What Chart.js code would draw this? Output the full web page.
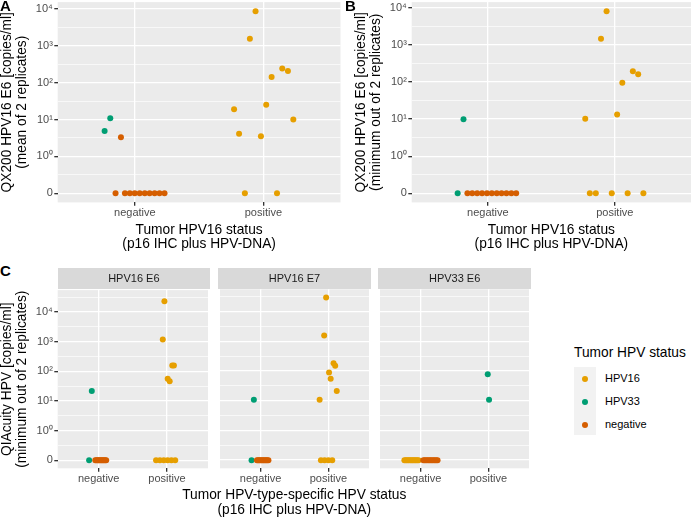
<!DOCTYPE html>
<html>
<head>
<meta charset="utf-8">
<script src="https://cdn.jsdelivr.net/npm/chart.js@4.4.1/dist/chart.umd.min.js"></script>
<style>
  body { margin: 0; width: 695px; height: 525px; position: relative; overflow: hidden; background: #fff;
         font-family: 'Liberation Sans', Arial, sans-serif; }
  canvas { position: absolute; }
  .txt { position: absolute; white-space: nowrap; }
  .tag { font-weight: bold; font-size: 15px; line-height: 15px; color: #000; }
  .strip { position: absolute; background: #D9D9D9; color: #1A1A1A; font-size: 11px; text-align: center; }
  .dot { position: absolute; width: 6px; height: 6px; border-radius: 50%; }
</style>
</head>
<body>
<canvas id="panelA" width="345" height="261" style="left:0;top:-6px"></canvas>
<canvas id="panelB" width="350" height="261" style="left:345px;top:-6px"></canvas>
<canvas id="panelC1" width="212" height="208" style="left:0;top:282px"></canvas>
<canvas id="panelC2" width="157" height="208" style="left:216px;top:282px"></canvas>
<canvas id="panelC3" width="157" height="208" style="left:376px;top:282px"></canvas>

<div class="txt tag" style="left:0;top:-2px">A</div>
<div class="txt tag" style="left:345px;top:-2px">B</div>
<div class="txt tag" style="left:0;top:263px">C</div>

<div class="strip" style="left:57.7px;top:267.5px;width:152.3px;height:21.8px;line-height:21.8px">HPV16 E6</div>
<div class="strip" style="left:218.3px;top:267.5px;width:152.4px;height:21.8px;line-height:21.8px">HPV16 E7</div>
<div class="strip" style="left:378.3px;top:267.5px;width:152.7px;height:21.8px;line-height:21.8px">HPV33 E6</div>

<div class="txt" style="left:94.3px;top:486.5px;width:400px;text-align:center;font-size:13.75px;line-height:15.7px;color:#000">Tumor HPV-type-specific HPV status<br>(p16 IHC plus HPV-DNA)</div>

<div class="txt" style="left:574px;top:345.3px;font-size:13.75px;line-height:16px;color:#000">Tumor HPV status</div>
<div style="position:absolute;left:574px;top:367px;width:22px;height:68px;background:#F2F2F2"></div>
<div id="legendKeys"></div>

<script>
// categories and groups
const statusLabels = ['negative', 'positive'];
const groupNames = ['HPV16', 'HPV33', 'negative'];
const groupColors = ['#E69F00', '#009E73', '#D55E00'];
const supDigits = ['⁰', '¹', '²', '³', '⁴', '⁵'];

// each point: [jittered status position (1 = negative, 2 = positive), copies/ml]
// A: QX200 HPV16 E6, mean of 2 replicates
const qxMeanHpv16 = [[1.939, 8650], [1.895, 1550], [2.147, 240], [2.191, 207], [2.064, 142], [1.772, 19],
                     [2.022, 25], [2.233, 10], [1.811, 4.1], [1.981, 3.5], [1.856, 0], [2.106, 0]];
const qxMeanHpv33 = [[0.765, 4.9], [0.809, 10.9]];
const qxMeanNeg = [[0.892, 3.3], [0.850, 0], [0.923, 0], [0.961, 0], [0.999, 0], [1.038, 0],
                   [1.077, 0], [1.115, 0], [1.154, 0], [1.192, 0], [1.231, 0]];

// B: QX200 HPV16 E6, minimum out of 2 replicates
const qxMinHpv16 = [[1.935, 8130], [1.891, 1470], [2.142, 195], [2.184, 161], [2.059, 96], [1.767, 10.2],
                    [2.018, 13.3], [1.803, 0], [1.850, 0], [1.976, 0], [2.101, 0], [2.225, 0]];
const qxMinHpv33 = [[0.762, 0], [0.808, 10]];
const qxMinNeg = [[0.839, 0], [0.877, 0], [0.916, 0], [0.954, 0], [0.993, 0], [1.031, 0],
                  [1.070, 0], [1.108, 0], [1.146, 0], [1.185, 0], [1.223, 0]];

// C: QIAcuity, minimum out of 2 replicates, per assay
const e6Hpv16 = [[1.962, 23500], [1.938, 1200], [2.077, 159], [2.101, 159], [2.010, 56], [2.039, 46],
                 [1.840, 0], [1.896, 0], [1.952, 0], [2.008, 0], [2.064, 0], [2.120, 0]];
const e6Hpv33 = [[0.860, 0], [0.899, 21.7]];
const e6Neg = [[0.950, 0], [0.966, 0], [0.982, 0], [0.998, 0], [1.014, 0], [1.030, 0],
               [1.046, 0], [1.062, 0], [1.078, 0], [1.094, 0], [1.110, 0]];

const e7Hpv16 = [[1.967, 29600], [1.938, 1550], [2.077, 181], [2.101, 148], [2.010, 88], [2.034, 55],
                 [2.124, 21.2], [1.871, 10.8], [1.890, 0], [1.945, 0], [2.000, 0], [2.057, 0]];
const e7Hpv33 = [[0.866, 0], [0.900, 10.8]];
const e7Neg = [[0.945, 0], [0.962, 0], [0.979, 0], [0.996, 0], [1.013, 0], [1.030, 0],
               [1.047, 0], [1.064, 0], [1.081, 0], [1.098, 0], [1.115, 0]];

const e6h33Hpv16 = [[0.760, 0], [0.779, 0], [0.798, 0], [0.817, 0], [0.836, 0], [0.855, 0],
                    [0.874, 0], [0.893, 0], [0.912, 0], [0.931, 0], [0.950, 0], [0.970, 0]];
const e6h33Hpv33 = [[1.991, 77], [2.010, 10.8]];
const e6h33Neg = [[1.040, 0], [1.061, 0], [1.082, 0], [1.103, 0], [1.124, 0], [1.145, 0],
                  [1.166, 0], [1.187, 0], [1.208, 0], [1.229, 0], [1.250, 0]];

const FONT = "'Liberation Sans', Arial, sans-serif";

// 0 sits one decade below 10^0, like the figure's axis
const toLog = v => v > 0 ? Math.log10(v) : -1;

function yRange(lists) {
    const ys = lists.flat().map(p => toLog(p[1]));
    const lo = Math.min(...ys), hi = Math.max(...ys);
    const pad = (hi - lo) * 0.05;
    return [lo - pad, hi + pad];
}

const tickText = v => v === -1 ? '0' : '10' + supDigits[v];
const isMajor = t => t && Number.isInteger(t.value);

// grey panel background behind the grid
const panelBg = {
    id: 'panelBg',
    beforeDraw(chart) {
        const { ctx, chartArea: a } = chart;
        ctx.save();
        ctx.fillStyle = '#EBEBEB';
        ctx.fillRect(a.left, a.top, a.right - a.left, a.bottom - a.top);
        ctx.restore();
    }
};

function makePanel(id, series, o) {
    const [yMin, yMax] = o.yRange;
    return new Chart(document.getElementById(id), {
        type: 'scatter',
        data: {
            datasets: series.map((pts, i) => ({
                label: groupNames[i],
                data: pts.map(([x, v]) => ({ x: x, y: toLog(v) })),
                backgroundColor: groupColors[i],
                borderWidth: 0,
                pointRadius: 3,
                order: 3 - i
            }))
        },
        options: {
            responsive: false,
            animation: false,
            events: [],
            layout: { padding: o.padding },
            plugins: { legend: { display: false }, tooltip: { enabled: false } },
            scales: {
                x: {
                    type: 'linear',
                    min: 0.4,
                    max: 2.6,
                    afterBuildTicks: s => { s.ticks = [{ value: 1 }, { value: 2 }]; },
                    afterFit: s => { s.height = o.xHeight; },
                    border: { display: false },
                    grid: { color: '#FFFFFF', lineWidth: 1.33, tickColor: '#333333', tickLength: 3.4, tickWidth: 1.33 },
                    ticks: {
                        callback: v => statusLabels[v - 1],
                        color: '#4D4D4D',
                        font: { family: FONT, size: 11 },
                        padding: 1,
                        maxRotation: 0,
                        autoSkip: false
                    },
                    title: o.xTitle ? {
                        display: true,
                        text: o.xTitle,
                        color: '#000000',
                        font: { family: FONT, size: 13.75, lineHeight: '14.5px' },
                        padding: { top: 0, bottom: 3.45 }
                    } : { display: false }
                },
                y: {
                    type: 'linear',
                    min: yMin,
                    max: yMax,
                    afterBuildTicks: s => {
                        const t = [];
                        for (let k = -3; k <= 10; k++) {
                            const v = k / 2;
                            if (v >= s.min && v <= s.max) t.push({ value: v });
                        }
                        s.ticks = t;
                    },
                    afterFit: s => { s.width = o.yWidth; },
                    border: { display: false },
                    grid: {
                        color: '#FFFFFF',
                        lineWidth: c => isMajor(c.tick) ? 1.33 : 0.67,
                        tickColor: c => isMajor(c.tick) ? '#333333' : 'rgba(0,0,0,0)',
                        tickLength: 3.4,
                        tickWidth: 1.33,
                        drawTicks: o.showY
                    },
                    ticks: {
                        display: o.showY,
                        autoSkip: false,
                        callback: v => Number.isInteger(v) ? tickText(v) : '',
                        color: '#4D4D4D',
                        font: { family: FONT, size: 11 },
                        padding: 1.5
                    },
                    title: o.yTitle ? {
                        display: true,
                        text: o.yTitle,
                        color: '#000000',
                        font: { family: FONT, size: 13.75, lineHeight: '14.5px' },
                        padding: { top: 0, bottom: 0 }
                    } : { display: false }
                }
            }
        },
        plugins: [panelBg]
    });
}

const xTitleAB = ['Tumor HPV16 status', '(p16 IHC plus HPV-DNA)'];

makePanel('panelA', [qxMeanHpv16, qxMeanHpv33, qxMeanNeg], {
    yRange: yRange([qxMeanHpv16, qxMeanHpv33, qxMeanNeg]),
    padding: { top: 7.5, left: 0, right: 4.5, bottom: 0 },
    yWidth: 57.7, xHeight: 52.6, showY: true,
    yTitle: ['QX200 HPV16 E6 [copies/ml]', '(mean of 2 replicates)'],
    xTitle: xTitleAB
});

makePanel('panelB', [qxMinHpv16, qxMinHpv33, qxMinNeg], {
    yRange: yRange([qxMinHpv16, qxMinHpv33, qxMinNeg]),
    padding: { top: 7.5, left: 9, right: 0.5, bottom: 0 },
    yWidth: 57.7, xHeight: 52.6, showY: true,
    yTitle: ['QX200 HPV16 E6 [copies/ml]', '(minimum out of 2 replicates)'],
    xTitle: xTitleAB
});

// facets share one y range
const cRange = yRange([e6Hpv16, e6Hpv33, e6Neg, e7Hpv16, e7Hpv33, e7Neg, e6h33Hpv16, e6h33Hpv33, e6h33Neg]);

makePanel('panelC1', [e6Hpv16, e6Hpv33, e6Neg], {
    yRange: cRange,
    padding: { top: 7.3, left: 0, right: 2, bottom: 0 },
    yWidth: 57.7, xHeight: 21.7, showY: true,
    yTitle: ['QIAcuity HPV [copies/ml]', '(minimum out of 2 replicates)']
});

makePanel('panelC2', [e7Hpv16, e7Hpv33, e7Neg], {
    yRange: cRange,
    padding: { top: 7.3, left: 2.3, right: 2.3, bottom: 0 },
    yWidth: 0, xHeight: 21.7, showY: false
});

makePanel('panelC3', [e6h33Hpv16, e6h33Hpv33, e6h33Neg], {
    yRange: cRange,
    padding: { top: 7.3, left: 2.3, right: 2, bottom: 0 },
    yWidth: 0, xHeight: 21.7, showY: false
});

// legend keys
const legendBox = document.getElementById('legendKeys');
groupNames.forEach((name, i) => {
    const cy = 378.5 + i * 23;
    const dot = document.createElement('div');
    dot.className = 'dot';
    dot.style.left = (585 - 3) + 'px';
    dot.style.top = (cy - 3) + 'px';
    dot.style.background = groupColors[i];
    legendBox.appendChild(dot);
    const label = document.createElement('div');
    label.className = 'txt';
    label.style.left = '605px';
    label.style.top = (cy - 6.5) + 'px';
    label.style.fontSize = '11px';
    label.style.lineHeight = '13px';
    label.style.color = '#000';
    label.textContent = name;
    legendBox.appendChild(label);
});
</script>
</body>
</html>
